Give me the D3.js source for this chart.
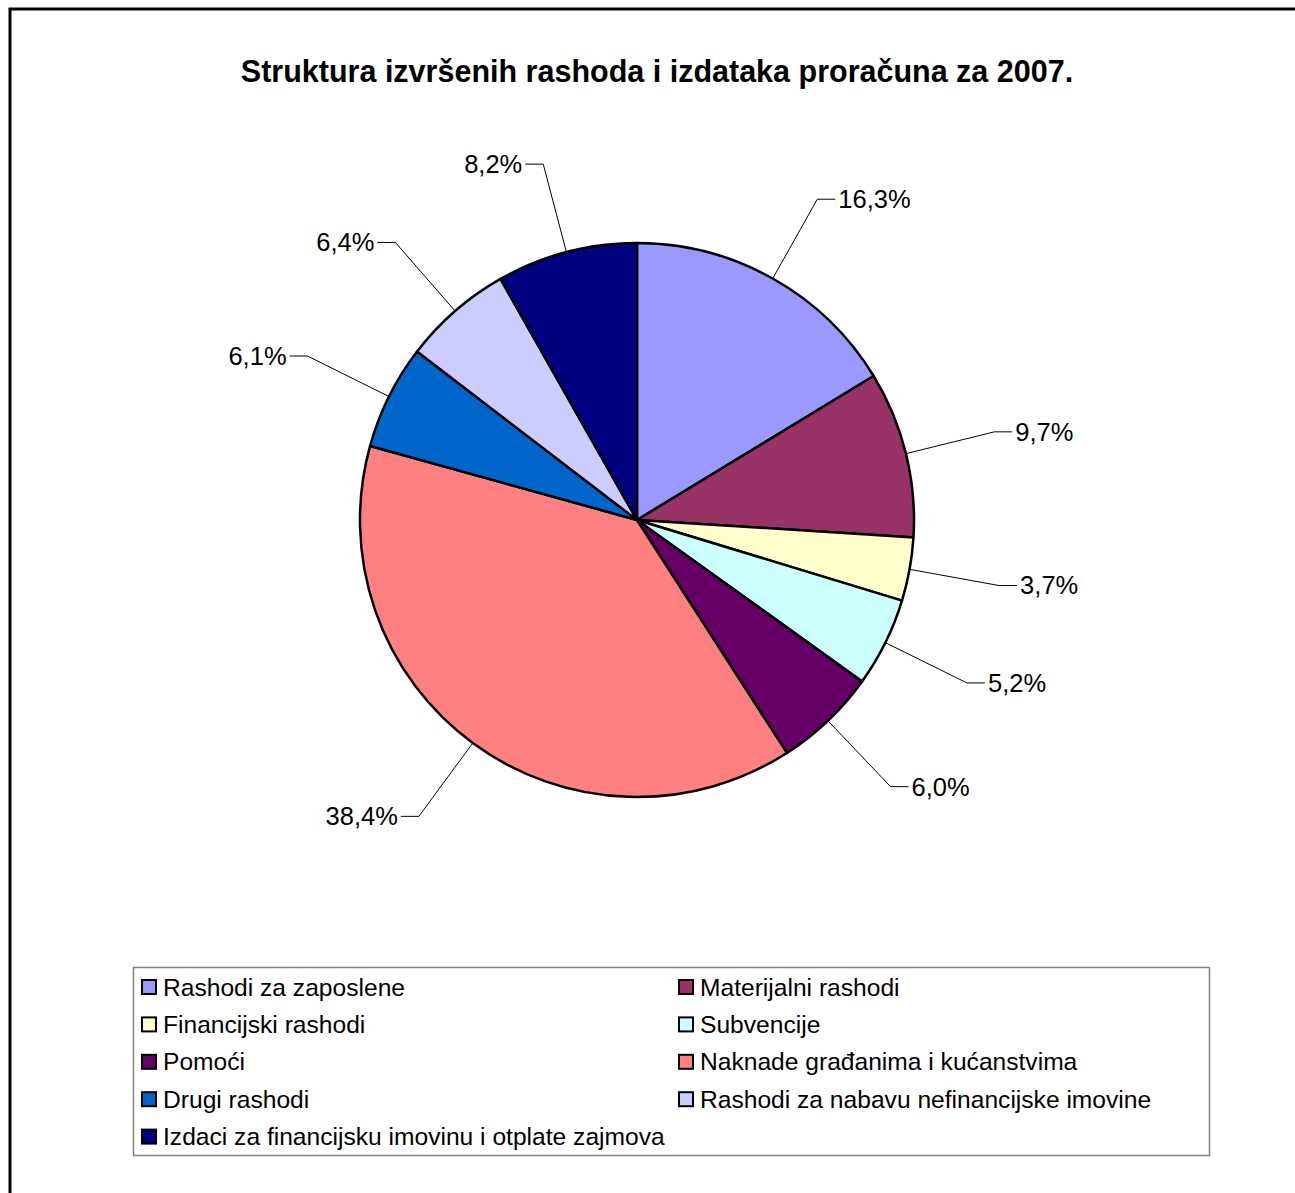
<!DOCTYPE html>
<html>
<head>
<meta charset="utf-8">
<script src="https://cdn.jsdelivr.net/npm/d3@7"></script>
<style>
  body { margin: 0; background: #fff; }
  svg { display: block; font-family: "Liberation Sans", Arial, sans-serif; }
</style>
</head>
<body>
<div id="chart"></div>
<script>
const categories = [
  "Rashodi za zaposlene",
  "Materijalni rashodi",
  "Financijski rashodi",
  "Subvencije",
  "Pomoći",
  "Naknade građanima i kućanstvima",
  "Drugi rashodi",
  "Rashodi za nabavu nefinancijske imovine",
  "Izdaci za financijsku imovinu i otplate zajmova"
];
const shares = [16.3, 9.7, 3.7, 5.2, 6.0, 38.4, 6.1, 6.4, 8.2];
const colors = ["#9999FF", "#993366", "#FFFFCC", "#CCFFFF", "#660066", "#FF8080", "#0066CC", "#CCCCFF", "#000080"];
const title = "Struktura izvršenih rashoda i izdataka proračuna za 2007.";

const W = 1295, H = 1193;
const cx = 637, cy = 520, r = 277;

const svg = d3.select("#chart").append("svg")
  .attr("width", W)
  .attr("height", H);

// chart area frame (runs off the right/bottom edge like the original)
svg.append("rect")
  .attr("x", 10).attr("y", 9)
  .attr("width", W + 20).attr("height", H + 20)
  .attr("fill", "#fff")
  .attr("stroke", "#000")
  .attr("stroke-width", 3);

svg.append("text")
  .attr("x", 657).attr("y", 82)
  .attr("text-anchor", "middle")
  .attr("font-size", 30.5)
  .attr("font-weight", "bold")
  .text(title);

const data = categories.map((c, i) => ({ name: c, value: shares[i], color: colors[i] }));

const pie = d3.pie()
  .sort(null)
  .value(d => d.value);

const arcs = pie(data);

const arc = d3.arc().innerRadius(0).outerRadius(r);

const g = svg.append("g").attr("transform", `translate(${cx},${cy})`);

g.selectAll("path.slice")
  .data(arcs)
  .enter().append("path")
  .attr("class", "slice")
  .attr("d", arc)
  .attr("fill", d => d.data.color)
  .attr("stroke", "#000")
  .attr("stroke-width", 2.5)
  .attr("stroke-linejoin", "round");

// labels with leader lines
const edgeArc = d3.arc().innerRadius(r).outerRadius(r);
const labelArc = d3.arc().innerRadius(368).outerRadius(368);
const fmt = v => v.toFixed(1).replace(".", ",") + "%";

const lab = g.selectAll("g.lab")
  .data(arcs)
  .enter().append("g")
  .attr("class", "lab");

lab.append("polyline")
  .attr("fill", "none")
  .attr("stroke", "#000")
  .attr("stroke-width", 1)
  .attr("points", d => {
    const a = edgeArc.centroid(d);
    const b = labelArc.centroid(d);
    const right = b[0] >= 0;
    const c = [b[0] + (right ? 18 : -18), b[1]];
    return [a, b, c].map(p => p.join(",")).join(" ");
  });

lab.append("text")
  .attr("x", d => {
    const b = labelArc.centroid(d);
    return b[0] + (b[0] >= 0 ? 21 : -21);
  })
  .attr("y", d => labelArc.centroid(d)[1])
  .attr("dy", "0.35em")
  .attr("text-anchor", d => labelArc.centroid(d)[0] >= 0 ? "start" : "end")
  .attr("font-size", 25.5)
  .text(d => fmt(d.data.value));

// legend
const legend = svg.append("g");
legend.append("rect")
  .attr("x", 133.5).attr("y", 967.5)
  .attr("width", 1076).attr("height", 188)
  .attr("fill", "#fff")
  .attr("stroke", "#808080")
  .attr("stroke-width", 1.5);

const colX = [142, 679];
const rowY = d3.range(5).map(i => 987 + i * 37.4);

const item = legend.selectAll("g.item")
  .data(data)
  .enter().append("g")
  .attr("class", "item")
  .attr("transform", (d, i) => `translate(${colX[i % 2]},${rowY[Math.floor(i / 2)]})`);

item.append("rect")
  .attr("x", 0).attr("y", -7)
  .attr("width", 14).attr("height", 14)
  .attr("fill", d => d.color)
  .attr("stroke", "#000")
  .attr("stroke-width", 2);

item.append("text")
  .attr("x", 21).attr("y", 0)
  .attr("dy", "0.35em")
  .attr("font-size", 24.6)
  .text(d => d.name);
</script>
</body>
</html>
